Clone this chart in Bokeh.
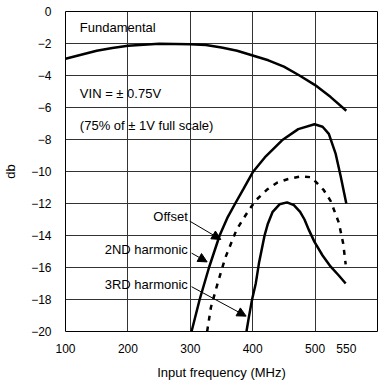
from bokeh.plotting import figure
from bokeh.models import Range1d, FixedTicker, Label, Arrow, NormalHead
from bokeh.embed import file_html
from bokeh.resources import INLINE

# ---- data ----
fund_x = [100, 125, 150, 175, 200, 250, 300, 325, 350, 375, 400, 425, 450, 475, 500, 525, 550]
fund_y = [-2.95, -2.7, -2.45, -2.28, -2.14, -2.02, -2.04, -2.1, -2.25, -2.45, -2.75, -3.05, -3.45, -4.0, -4.6, -5.35, -6.2]

h2_x = [302, 315, 330, 347, 360, 372, 385, 400, 421, 447, 473, 499, 512, 522, 533, 541, 550]
h2_y = [-20, -18, -16, -14, -12.85, -12.0, -11.1, -10.05, -9.05, -8.05, -7.35, -7.05, -7.2, -7.65, -8.9, -10.3, -12.0]

off_x = [327, 333, 343, 356, 374, 385, 395, 405, 423, 439, 457, 478, 494, 514, 525, 538, 545, 549]
off_y = [-20, -18.5, -17.1, -15.4, -13.65, -12.95, -12.35, -11.8, -11.13, -10.7, -10.47, -10.3, -10.36, -11.17, -11.85, -13.2, -14.5, -15.8]

h3_x = [390, 394, 399, 405, 410, 419, 424, 432, 443, 455, 466, 476, 483, 490, 499, 512, 525, 538, 549]
h3_y = [-20, -19.07, -18.0, -16.98, -15.74, -14.0, -13.3, -12.52, -12.05, -11.93, -12.1, -12.52, -13.0, -13.65, -14.4, -15.25, -15.95, -16.5, -17.0]

x_ticks = [100, 200, 300, 400, 500, 550]
x_grid = [200, 300, 400, 500]
y_ticks = [0, -2, -4, -6, -8, -10, -12, -14, -16, -18, -20]

FONT = "Liberation Sans"

p = figure(width=380, height=382, output_backend="svg", toolbar_location=None,
           x_range=Range1d(100, 600), y_range=Range1d(-20, 0),
           min_border_left=57, min_border_right=3, min_border_top=11, min_border_bottom=50)

p.outline_line_color = "black"
p.outline_line_width = 1
p.background_fill_color = "white"
p.border_fill_color = "white"

for ax in (p.xaxis[0], p.yaxis[0]):
    ax.axis_line_color = None
    ax.major_tick_line_color = None
    ax.minor_tick_line_color = None
    ax.major_label_text_font = FONT
    ax.major_label_text_font_size = "12px"
    ax.major_label_text_color = "black"
    ax.axis_label_text_font = FONT
    ax.axis_label_text_font_size = "13px"
    ax.axis_label_text_font_style = "normal"
    ax.axis_label_text_color = "black"

p.xaxis.ticker = FixedTicker(ticks=x_ticks)
p.yaxis.ticker = FixedTicker(ticks=y_ticks)
p.xaxis.axis_label = "Input frequency (MHz)"
p.yaxis.axis_label = "db"
p.xaxis.major_label_standoff = 6
p.yaxis.major_label_standoff = 8
p.xaxis.axis_label_standoff = 9
p.yaxis.axis_label_standoff = 10

p.xgrid.ticker = FixedTicker(ticks=x_grid)
p.ygrid.ticker = FixedTicker(ticks=y_ticks[1:-1])
for g in (p.xgrid[0], p.ygrid[0]):
    g.grid_line_color = "#333333"
    g.grid_line_width = 1

p.line(fund_x, fund_y, line_color="black", line_width=2.5)
p.line(h2_x, h2_y, line_color="black", line_width=2.5)
p.line(off_x, off_y, line_color="black", line_width=2.5, line_dash="5 6")
p.line(h3_x, h3_y, line_color="black", line_width=2.5)

def lab(x, y, t, align="left"):
    p.add_layout(Label(x=x, y=y, text=t, text_font=FONT, text_font_size="13px",
                       text_color="black", text_align=align, text_baseline="middle"))

lab(123, -1.0, "Fundamental")
lab(123, -5.15, "VIN = ± 0.75V")
lab(123, -7.12, "(75% of ± 1V full scale)")
lab(296, -12.83, "Offset", "right")
lab(296, -14.87, "2ND harmonic", "right")
lab(296, -17.05, "3RD harmonic", "right")

arrows = [((299, -13.1), (349, -14.25)),
          ((302, -15.1), (327, -15.65)),
          ((302, -17.2), (389.5, -19.04))]
for (xs, ys), (xe, ye) in arrows:
    p.add_layout(Arrow(x_start=xs, y_start=ys, x_end=xe, y_end=ye, line_width=1,
                       line_color="black",
                       end=NormalHead(size=9, fill_color="black", line_color="black")))

open("out.html", "w").write(file_html(p, INLINE))
